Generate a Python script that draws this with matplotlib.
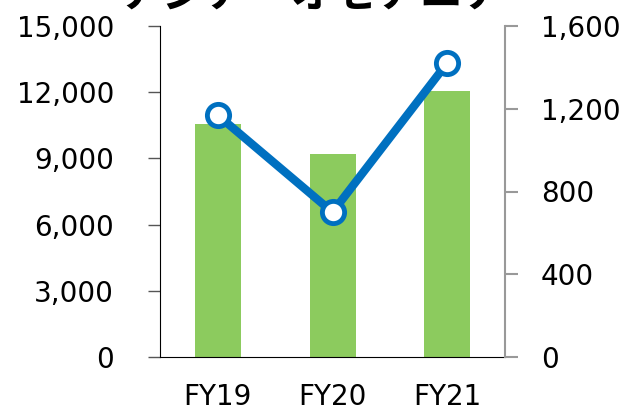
import matplotlib
matplotlib.use("Agg")
import matplotlib.pyplot as plt
import numpy as np
from matplotlib.ticker import FuncFormatter

plt.rcParams['font.family'] = ['DejaVu Sans', 'Noto Sans CJK JP']

title = "アジア・オセアニア"
categories = ["FY19", "FY20", "FY21"]
bar_values = [10570, 9200, 12060]
line_values = [1170, 700, 1423]
left_ticks = [0, 3000, 6000, 9000, 12000, 15000]
right_ticks = [0, 400, 800, 1200, 1600]

fig = plt.figure(figsize=(6.2, 4.13), dpi=100)
W, H = 620, 413
ax_l, ax_r, ax_t, ax_b = 160, 505, 26, 357
ax = fig.add_axes([ax_l / W, 1 - ax_b / H, (ax_r - ax_l) / W, (ax_b - ax_t) / H])
x = np.arange(len(categories))
ax.bar(x, bar_values, width=0.4, color="#8CCB5E", zorder=1)
ax.set_xlim(-0.5, 2.5)
ax.set_ylim(0, 15000)
ax.set_yticks(left_ticks)
ax.yaxis.set_major_formatter(FuncFormatter(lambda v, p: f"{int(v):,}"))
ax.set_xticks(x)
ax.set_xticklabels(categories)
ax.tick_params(axis='y', which='both', length=9, width=1, color="#555555", pad=24, labelsize=20)
ax.tick_params(axis='x', length=0, pad=19, labelsize=20)
for s in ["top", "right"]:
    ax.spines[s].set_visible(False)
ax.spines["left"].set_color("black")
ax.spines["bottom"].set_color("black")

ax2 = ax.twinx()
ax2.plot(x, line_values, color="#0070C0", lw=6, marker="o", markersize=16,
         markerfacecolor="white", markeredgecolor="#0070C0", markeredgewidth=3.5,
         solid_capstyle="round", zorder=3)
ax2.set_ylim(0, 1600)
ax2.set_yticks(right_ticks)
ax2.yaxis.set_major_formatter(FuncFormatter(lambda v, p: f"{int(v):,}"))
ax2.tick_params(axis='y', length=9, width=1.5, color="#999999", pad=17, labelsize=20)
for s in ["top", "left", "bottom"]:
    ax2.spines[s].set_visible(False)
ax2.spines["right"].set_color("#999999")
ax2.spines["right"].set_linewidth(1.5)

fig.text(0.505, 1 - 7 / H, title, fontsize=31, fontweight="bold",
         family=["Noto Sans CJK JP", "DejaVu Sans"], ha="center", va="baseline")

fig.savefig("out.png", dpi=100)
